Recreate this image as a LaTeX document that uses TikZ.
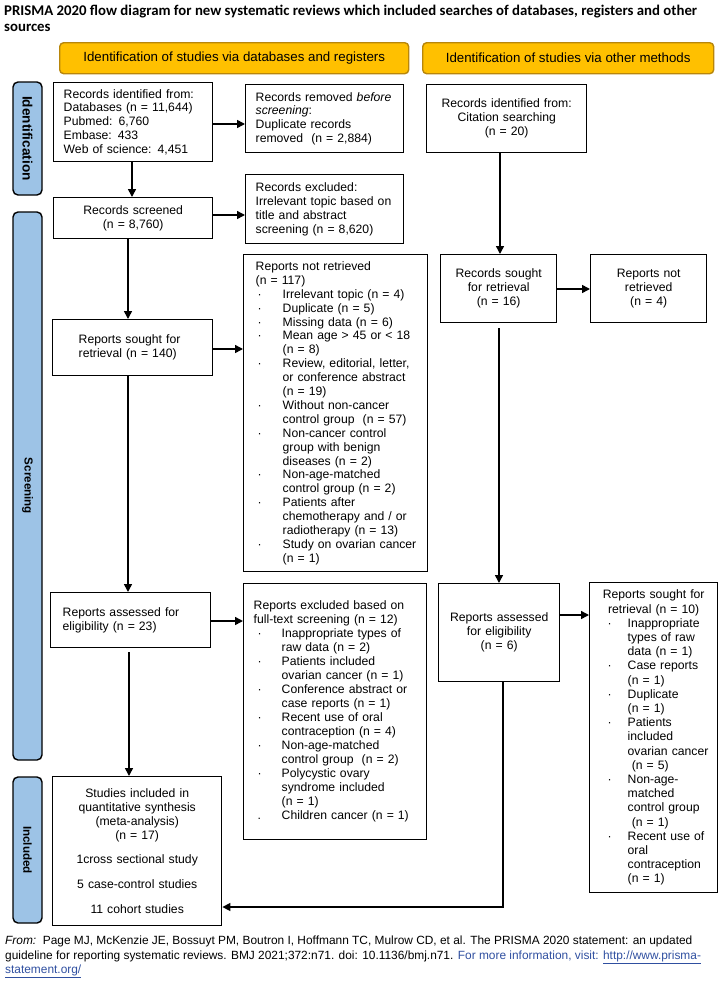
\documentclass[tikz,border=0pt]{standalone}
\usepackage{fontspec}
\setmainfont{Liberation Sans}
\newfontfamily\titlefont{Carlito}
\usetikzlibrary{arrows.meta}
\definecolor{hdrfill}{HTML}{FFC000}
\definecolor{hdrdraw}{HTML}{B8860B}
\definecolor{bandfill}{HTML}{9DC3E6}
\definecolor{linkblue}{HTML}{2F4FA0}
\newcommand\bitem[2]{\hspace*{#1pt}\makebox[#2pt][l]{·}}
\newcommand\bcont[1]{\hspace*{#1pt}}
\begin{document}
\begin{tikzpicture}[x=1pt,y=-1pt,
  box/.style={draw, line width=1.4pt, inner sep=0pt, anchor=north west,
    font=\fontsize{12.2}{13.9}\selectfont},
  lbox/.style={box, align=left},
  cbox/.style={box, align=center},
  hdr/.style={draw=hdrdraw, fill=hdrfill, line width=1.4pt, rounded corners=4pt,
    anchor=north west, inner sep=0pt, font=\fontsize{13.3}{14}\selectfont},
  band/.style={draw, fill=bandfill, line width=1.4pt, rounded corners=5pt,
    rotate=-90, inner sep=0pt, minimum height=29pt, font=\bfseries\fontsize{11.6}{13}\selectfont},
  arr/.style={line width=1.5pt, -{Triangle[length=8pt,width=8pt]}},
  ln/.style={line width=1.5pt}]
\useasboundingbox (0,0) rectangle (721,983);

% title
\node[anchor=north west, inner sep=0pt, align=left, font=\titlefont\bfseries\fontsize{14.8}{15.5}\selectfont] (title) at (4,5)
  {PRISMA 2020 flow diagram for new systematic reviews which included searches of databases, registers and other\\ sources};

% headers
\node[hdr, minimum width=349pt, minimum height=31pt] (h1) at (59,42) {Identification of studies via databases and registers};
\node[hdr, minimum width=291pt, minimum height=31pt] (h2) at (422,42) {Identification of studies via other methods};

% bands
\node[band, minimum width=113pt, font=\bfseries\fontsize{13.6}{15}\selectfont] (lid) at (27.5,138.5) {Identification};
\node[band, minimum width=548pt] (lsc) at (27.5,486) {Screening};
\node[band, minimum width=146pt] (lin) at (27.5,850) {Included};

% left column
\node[lbox, text width=159pt, minimum height=79pt] (b1) at (53,82)
  {\bcont{10}Records identified from:\\
   \bcont{10}Databases (n = 11,644)\\
   \bcont{10}Pubmed: 6,760\\
   \bcont{10}Embase: 433\\
   \bcont{10}Web of science: 4,451};
\node[lbox, text width=158pt, minimum height=68pt] (b2) at (245,84)
  {\bcont{10}Records removed \textit{before}\\
   \bcont{10}\textit{screening}:\\
   \bcont{10}Duplicate records\\
   \bcont{10}removed\ \ (n = 2,884)};
\node[cbox, text width=159pt, minimum height=41pt] (b3) at (53,197)
  {Records screened\\ (n = 8,760)};
\node[lbox, text width=158pt, minimum height=69pt] (b4) at (245,174)
  {\bcont{10}Records excluded:\\
   \bcont{10}Irrelevant topic based on\\
   \bcont{10}title and abstract\\
   \bcont{10}screening (n = 8,620)};
\node[lbox, text width=160pt, minimum height=56pt] (b5) at (52,319)
  {\bcont{26}Reports sought for\\
   \bcont{26}retrieval (n = 140)};
\node[lbox, text width=184pt, minimum height=317pt] (b6) at (243,254)
  {\bcont{12}Reports not retrieved\\
   \bcont{12}(n = 117)\\
   \bitem{14}{25}Irrelevant topic (n = 4)\\
   \bitem{14}{25}Duplicate (n = 5)\\
   \bitem{14}{25}Missing data (n = 6)\\
   \bitem{14}{25}Mean age > 45 or < 18\\
   \bcont{39}(n = 8)\\
   \bitem{14}{25}Review, editorial, letter,\\
   \bcont{39}or conference abstract\\
   \bcont{39}(n = 19)\\
   \bitem{14}{25}Without non-cancer\\
   \bcont{39}control group\ \ (n = 57)\\
   \bitem{14}{25}Non-cancer control\\
   \bcont{39}group with benign\\
   \bcont{39}diseases (n = 2)\\
   \bitem{14}{25}Non-age-matched\\
   \bcont{39}control group (n = 2)\\
   \bitem{14}{25}Patients after\\
   \bcont{39}chemotherapy and / or\\
   \bcont{39}radiotherapy (n = 13)\\
   \bitem{14}{25}Study on ovarian cancer\\
   \bcont{39}(n = 1)};
\node[lbox, text width=160pt, minimum height=55pt] (b7) at (50,592)
  {\bcont{12}Reports assessed for\\
   \bcont{12}eligibility (n = 23)};
\node[lbox, text width=183pt, minimum height=256pt, font=\fontsize{12.2}{14}\selectfont] (b8) at (243,583)
  {\bcont{10}Reports excluded based on\\
   \bcont{10}full-text screening (n = 12)\\
   \bitem{14}{24}Inappropriate types of\\
   \bcont{38}raw data (n = 2)\\
   \bitem{14}{24}Patients included\\
   \bcont{38}ovarian cancer (n = 1)\\
   \bitem{14}{24}Conference abstract or\\
   \bcont{38}case reports (n = 1)\\
   \bitem{14}{24}Recent use of oral\\
   \bcont{38}contraception (n = 4)\\
   \bitem{14}{24}Non-age-matched\\
   \bcont{38}control group\ \ (n = 2)\\
   \bitem{14}{24}Polycystic ovary\\
   \bcont{38}syndrome included\\
   \bcont{38}(n = 1)\\
   \hspace*{14pt}\makebox[24pt][l]{.}Children cancer (n = 1)};
\node[cbox, text width=169pt, minimum height=149pt] (b9) at (52,776)
  {Studies included in\\ quantitative synthesis\\ (meta-analysis)\\ (n = 17)\\[11pt]
   1cross sectional study\\[11pt] 5 case-control studies\\[11pt] 11 cohort studies};

% right column
\node[cbox, text width=160pt, minimum height=68pt] (c1) at (426,84)
  {Records identified from:\\ Citation searching\\ (n = 20)};
\node[cbox, text width=116pt, minimum height=68pt] (c2) at (440,254)
  {Records sought\\ for retrieval\\ (n = 16)};
\node[cbox, text width=116pt, minimum height=68pt] (c3) at (590,254)
  {Reports not\\ retrieved\\ (n = 4)};
\node[cbox, text width=121pt, minimum height=98pt] (c4) at (438,583)
  {Reports assessed\\ for eligibility\\ (n = 6)};
\node[lbox, text width=128pt, minimum height=310pt, font=\fontsize{12.2}{14.2}\selectfont] (c5) at (589,582)
  {\makebox[128pt][c]{Reports sought for}\\
   \makebox[128pt][c]{retrieval (n = 10)}\\
   \bitem{18}{20}Inappropriate\\
   \bcont{38}types of raw\\
   \bcont{38}data (n = 1)\\
   \bitem{18}{20}Case reports\\
   \bcont{38}(n = 1)\\
   \bitem{18}{20}Duplicate\\
   \bcont{38}(n = 1)\\
   \bitem{18}{20}Patients\\
   \bcont{38}included\\
   \bcont{38}ovarian cancer\\
   \bcont{38}\ (n = 5)\\
   \bitem{18}{20}Non-age-\\
   \bcont{38}matched\\
   \bcont{38}control group\\
   \bcont{38}\ (n = 1)\\
   \bitem{18}{20}Recent use of\\
   \bcont{38}oral\\
   \bcont{38}contraception\\
   \bcont{38}(n = 1)};

% connectors left
\draw[arr] (b1.east |- 0,124) -- (b2.west |- 0,124);
\draw[arr] (b1.south -| 132,0) -- (b3.north -| 132,0);
\draw[arr] (b3.east |- 0,215) -- (b4.west |- 0,215);
\draw[arr] (b3.south -| 128,0) -- (b5.north -| 128,0);
\draw[arr] (b5.east |- 0,349) -- (b6.west |- 0,349);
\draw[arr] (b5.south -| 128,0) -- (b7.north -| 128,0);
\draw[arr] (b7.east |- 0,621) -- (b8.west |- 0,621);
\draw[arr, shorten <=4pt] (b7.south -| 129,0) -- (b9.north -| 129,0);
% connectors right
\draw[arr] (c1.south -| 500,0) -- (c2.north -| 500,0);
\draw[arr] (c2.east |- 0,289) -- (c3.west |- 0,289);
\draw[arr, shorten <=5pt] (c2.south -| 499,0) -- (c4.north -| 499,0);
\draw[arr] (c4.east |- 0,615) -- (c5.west |- 0,615);
\coordinate (bend) at (503,907);
\draw[arr] (c4.south -| bend) -- (bend) -- (b9.east |- bend);

% footer
\node[anchor=north west, inner sep=0pt, align=left, font=\fontsize{11.9}{14.2}\selectfont] (foot) at (5,936)
  {\textit{From:}\ \ Page MJ, McKenzie JE, Bossuyt PM, Boutron I, Hoffmann TC, Mulrow CD, et al. The PRISMA 2020 statement: an updated\\
   guideline for reporting systematic reviews. BMJ 2021;372:n71. doi: 10.1136/bmj.n71. \textcolor{linkblue}{For more information, visit: \underline{http://www.prisma-}}\\
   \textcolor{linkblue}{\underline{statement.org/}}};
\end{tikzpicture}
\end{document}
